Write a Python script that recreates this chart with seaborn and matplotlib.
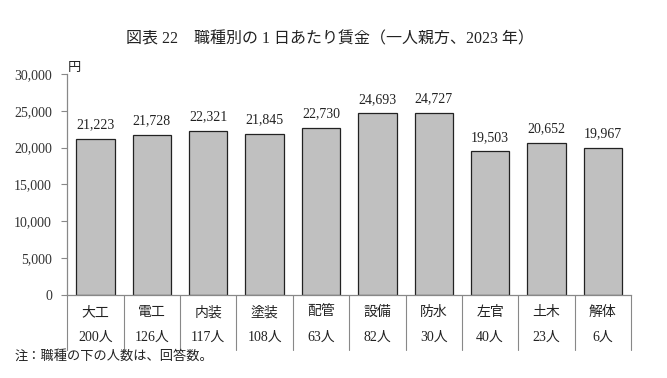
import matplotlib
matplotlib.use("Agg")
import matplotlib.pyplot as plt
import matplotlib.transforms as mtransforms
import pandas as pd
import seaborn as sns

# Data
jobs = ["大工", "電工", "内装", "塗装", "配管", "設備", "防水", "左官", "土木", "解体"]
wages = [21223, 21728, 22321, 21845, 22730, 24693, 24727, 19503, 20652, 19967]
counts = ["200人", "126人", "117人", "108人", "63人", "82人", "30人", "40人", "23人", "6人"]
yticks = [0, 5000, 10000, 15000, 20000, 25000, 30000]

sns.set_theme(style="white")
plt.rcParams["font.family"] = ["Liberation Serif", "Noto Sans CJK JP", "DejaVu Sans"]

df = pd.DataFrame({"job": jobs, "wage": wages})

fig = plt.figure(figsize=(6.67, 3.78), dpi=100)
ax = fig.add_axes([0.101, 0.2196, 0.845, 0.5847])

sns.barplot(data=df, x="job", y="wage", color="#c0c0c0", saturation=1,
            edgecolor="#222222", linewidth=0.9, width=0.68, ax=ax)

ax.set_ylim(0, 30000)
ax.set_xlim(-0.5, len(jobs) - 0.5)
ax.set_yticks(yticks)
ax.set_yticklabels([f"{v:,}" for v in yticks], fontsize=10, color="#333333")
ax.set_xticks([])
ax.set_xlabel("")
ax.set_ylabel("")
ax.tick_params(axis="y", which="both", left=True, length=4, width=0.8, color="#888888", pad=7)

for s in ["top", "right"]:
    ax.spines[s].set_visible(False)
ax.spines["left"].set_color("#888888")
ax.spines["bottom"].set_color("#888888")
ax.spines["left"].set_linewidth(0.9)
ax.spines["bottom"].set_linewidth(0.9)

# value labels
for i, v in enumerate(wages):
    ax.text(i, v + 1000, f"{v:,}", ha="center", va="bottom", fontsize=10, color="#222222")

# category table below the axis
trans = mtransforms.blended_transform_factory(ax.transData, ax.transAxes)
for b in range(len(jobs) + 1):
    ax.plot([b - 0.5, b - 0.5], [0, -0.25], transform=trans, color="#888888",
            lw=0.8, clip_on=False)
for i, (j, c) in enumerate(zip(jobs, counts)):
    ax.text(i, -0.08, j, transform=trans, ha="center", va="center", fontsize=10,
            color="#222222")
    ax.text(i, -0.19, c, transform=trans, ha="center", va="center", fontsize=10,
            color="#222222")

ax.text(-0.5, 1.0, "円", transform=trans, ha="left", va="bottom", fontsize=9.5,
        color="#222222")

fig.text(0.495, 0.895, "図表 22　職種別の 1 日あたり賃金（一人親方、2023 年）",
         ha="center", va="center", fontsize=11.5, color="#222222")
fig.text(0.022, 0.058, "注：職種の下の人数は、回答数。", ha="left", va="center",
         fontsize=9.5, color="#222222")

fig.savefig("out.png", dpi=100)
